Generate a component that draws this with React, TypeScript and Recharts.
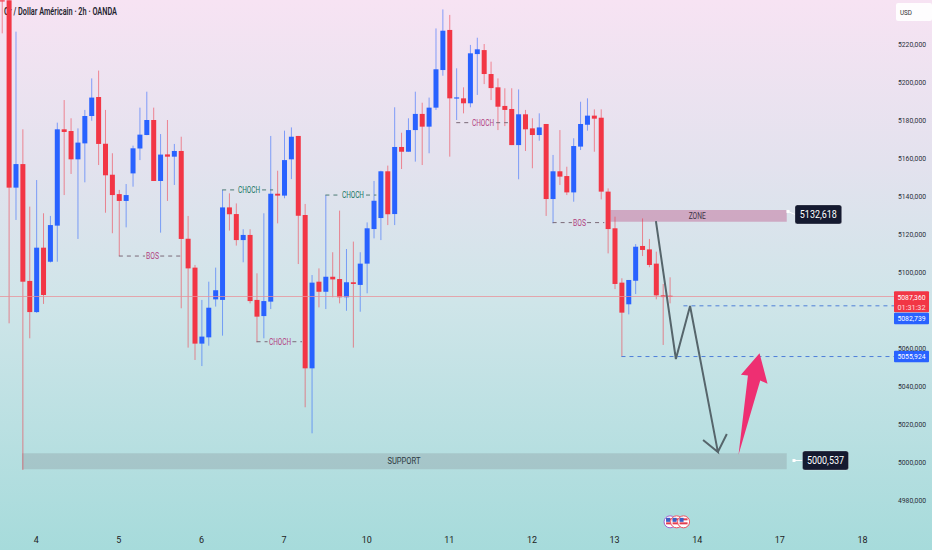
import React from 'react';
import {
  ComposedChart,
  Bar,
  Line,
  XAxis,
  YAxis,
  ReferenceArea,
  ReferenceLine,
  ReferenceDot,
} from 'recharts';

// 2h candles, first one sits just off the left edge
const opens = [
  5243, 5243, 5144.4, 5156.8, 5095.3, 5078.9, 5112.8, 5105.4, 5124.4, 5175.1,
  5174.2, 5159.3, 5167.7, 5182.1, 5192.1, 5167.5, 5151.2, 5141, 5137.4, 5151.9,
  5165, 5172.1, 5180, 5147.9, 5161.9, 5160.7, 5163.7, 5117.5, 5102.3, 5062.3,
  5065.6, 5085.6, 5085.3, 5134, 5130.5, 5116.8, 5119.5, 5085.3, 5076.8, 5084.4,
  5141.2, 5140.2, 5159.3, 5171.6, 5130, 5049.3, 5094.9, 5089.6, 5097.5, 5096.3,
  5086.7, 5094.6, 5093.2, 5104.4, 5122.6, 5128.4, 5153, 5130.5, 5165.8, 5163.3,
  5174.7, 5183.2, 5176.5, 5186.5, 5206.3, 5227.4, 5191.4, 5191.4, 5188.8, 5214.7,
  5216.8, 5204.2, 5197.2, 5187.4, 5185.8, 5166.8, 5183, 5175.6, 5172.1, 5177.9,
  5138.4, 5153, 5150.5, 5141.9, 5166, 5177.5, 5182.3, 5181.2, 5142.3, 5123,
  5094.4, 5083, 5095.4, 5113.7, 5111.9, 5104.4, 5087.7, 5087.5,
];
const closes = [
  5242.9, 5144.4, 5156.8, 5094.9, 5078.9, 5112.8, 5087.9, 5124.7, 5175.1, 5173.7,
  5159.3, 5168.1, 5182.1, 5191.8, 5167.4, 5150.9, 5140.5, 5137.4, 5140.5, 5165.1,
  5172.3, 5180, 5147.9, 5161.8, 5160.7, 5163.7, 5117.4, 5101.9, 5062.3, 5066,
  5081.2, 5090.4, 5134, 5130.4, 5116.8, 5119.5, 5084.7, 5076.5, 5084.7, 5141.2,
  5140.2, 5158.9, 5171.2, 5129.6, 5049.3, 5094.4, 5089.6, 5097.5, 5096.1, 5086.7,
  5094.6, 5093.7, 5104.4, 5123, 5137.5, 5153, 5130.4, 5165.8, 5163.3, 5174.7,
  5183.2, 5176.5, 5186.5, 5206.7, 5227, 5191.4, 5191.9, 5188.8, 5215.1, 5217.2,
  5204.2, 5196.8, 5187, 5185.3, 5166.8, 5183, 5175.1, 5172.1, 5176.1, 5138.4,
  5153, 5150.2, 5141.9, 5166.3, 5177.9, 5182.3, 5180.7, 5142.3, 5122.6, 5093.7,
  5078.6, 5095.8, 5113.3, 5111.6, 5103.7, 5087.7, 5086.8, 5087.36,
];
const highs = [
  5243, 5243, 5226.5, 5175.1, 5134.4, 5148.4, 5130.9, 5129.5, 5178.6, 5190.5,
  5180.9, 5175.6, 5185.3, 5201.9, 5206, 5185.3, 5162.5, 5143.2, 5146.3, 5166.5,
  5186.5, 5194.9, 5186.5, 5172.6, 5180, 5167.4, 5171.2, 5129.5, 5103.7, 5085.3,
  5094.9, 5102.3, 5143.2, 5141.4, 5136.1, 5122.5, 5122.5, 5099.3, 5130.9, 5171.6,
  5153.3, 5174.4, 5176.1, 5171.6, 5135.8, 5098.4, 5101.9, 5140.5, 5110.4, 5132.3,
  5112.1, 5116, 5110.4, 5126.1, 5147.9, 5153.3, 5156, 5186.7, 5173.3, 5180.9,
  5194.9, 5189.1, 5191.8, 5228.2, 5238.2, 5235.3, 5207.2, 5197.2, 5219.5, 5223.3,
  5220, 5210.7, 5201.9, 5196.7, 5196.7, 5196.1, 5185.3, 5180.9, 5183.5, 5177.9,
  5161.6, 5174.7, 5155.4, 5170.4, 5189.6, 5191.4, 5185.6, 5185.6, 5144, 5129.1,
  5096.7, 5095.8, 5114.7, 5128.2, 5117.4, 5110.7, 5093.7, 5097.2,
];
const lows = [
  5225.6, 5073, 5127.4, 4995.8, 5065.1, 5078.5, 5083.2, 5105, 5105.4, 5140.5,
  5151.6, 5117.4, 5147.2, 5179.6, 5156.3, 5131.2, 5120.4, 5108.4, 5123.5, 5144.9,
  5158.9, 5172, 5147.9, 5120.7, 5137.4, 5145.8, 5080.9, 5060.2, 5053.7, 5050.5,
  5061.2, 5081.8, 5066.5, 5121.8, 5113.9, 5105.1, 5083.5, 5063, 5065.1, 5080.5,
  5125.6, 5138.8, 5148.9, 5104.2, 5028.8, 5015.1, 5081.4, 5080.5, 5086.7, 5083.5,
  5079.6, 5060.2, 5079.1, 5088.8, 5117.7, 5116.8, 5124.7, 5124.7, 5154.2, 5163.3,
  5158.1, 5156.3, 5162.5, 5185.3, 5203.3, 5160.7, 5180, 5183.5, 5186.7, 5193.2,
  5198.9, 5190.5, 5174.7, 5176.8, 5166.8, 5148.8, 5163.7, 5154.6, 5169.1, 5129.5,
  5125.6, 5145.8, 5140.5, 5137, 5164.2, 5174.4, 5163.3, 5138.2, 5109.8, 5091,
  5055.4, 5077.7, 5088.4, 5108.4, 5102.5, 5085.6, 5061.6, 5083.5,
];

const dayTicks = [4, 16, 28, 40, 52, 64, 76, 88, 100, 112, 124];
const dayLabels = ['4', '5', '6', '7', '10', '11', '12', '13', '14', '17', '18'];
// 5080 is hidden behind the live price tags in the original
const priceTicks = [4980, 5000, 5020, 5040, 5060, 5100, 5120, 5140, 5160, 5180, 5200, 5220];

// hand drawn forecast path, with the arrow head at the end
const pathSlots = [94, 96.9, 98.96, 103, 100.85, 103, 104.3];
const pathPrices = [5126.8, 5054.2, 5082.1, 5005.3, 5011.6, 5005.3, 5014.7];

const candles = opens.map((open, i) => ({
  t: i - 1,
  open,
  close: closes[i],
  high: highs[i],
  low: lows[i],
}));
const pathData = pathSlots.map((t, i) => ({ t, price: pathPrices[i] }));

const RED = '#f23645';
const BLUE = '#2962ff';
const FONT = 'Roboto, sans-serif';
const LEFT_SLOT = -1.264;
const RIGHT_SLOT = 128.58;

const Candle = (props: any) => {
  const { x, y, width, height, payload } = props;
  const { open, close, high, low } = payload;
  const color = close >= open ? BLUE : RED;
  const perUnit = height / (high - low);
  const yOf = (v: number) => y + (high - v) * perUnit;
  const cx = x + width / 2;
  const top = yOf(Math.max(open, close));
  const bottom = yOf(Math.min(open, close));
  return (
    <g>
      <line x1={cx} x2={cx} y1={y} y2={y + height} stroke={color} strokeWidth={1} opacity={0.55} />
      <rect x={x} y={top} width={width} height={Math.max(bottom - top, 1.2)} fill={color} />
    </g>
  );
};

// the original's labels are narrower than any installed font, so squeeze them
const Squeezed = ({ len, size, ...rest }: any) => (
  <text textLength={len} lengthAdjust="spacingAndGlyphs" fontSize={size} fontFamily={FONT} {...rest} />
);

const PriceTick = (props: any) => (
  <Squeezed x={898} y={props.y + 3} len={28} size={8} fill="#2a2e39">
    {`${props.payload.value},000`}
  </Squeezed>
);

// text anchored on a time/price point
const note = (text: string, color: string, len: number, size = 9) => (props: any) => (
  <Squeezed x={props.cx - len / 2} y={props.cy + 3} len={len} size={size} fill={color}>
    {text}
  </Squeezed>
);

// tag on the price scale
const axisTag = (lines: string[], fill: string, height: number) => (props: any) => (
  <g>
    <rect x={894} y={props.cy - height / 2} width={35} height={height} fill={fill} rx={1} />
    {lines.map((s, i) => (
      <Squeezed
        key={s}
        x={897.5}
        y={props.cy - height / 2 + 8.7 + i * 10}
        len={28}
        size={8}
        fill="#fff"
        opacity={i === 0 ? 1 : 0.8}
      >
        {s}
      </Squeezed>
    ))}
  </g>
);

// dark callout with a small white leader from the drawing's handle
const callout = (text: string, w: number, dx: number, hx: number, hy: number) => (props: any) => (
  <g>
    <line x1={props.cx + hx} y1={props.cy + hy} x2={props.cx + dx} y2={props.cy} stroke="#fff" strokeWidth={1} />
    <rect x={props.cx + hx - 1.5} y={props.cy + hy - 1.5} width={3} height={3} fill="#fff" />
    <rect x={props.cx + dx} y={props.cy - 9.5} width={w} height={19} rx={2.5} fill="#151a30" stroke="#fff" strokeOpacity={0.5} strokeWidth={0.5} />
    <Squeezed x={props.cx + dx + (w - 37) / 2} y={props.cy + 4} len={37} size={11} fill="#fff">
      {text}
    </Squeezed>
  </g>
);

const PinkArrow = (props: any) => {
  const { cx, cy } = props;
  // tip, head and tail measured from the tip
  const outline = [
    [0, 0],
    [8, 30.6],
    [0.7, 27.3],
    [-21, 101.6],
    [-11.6, 22.3],
    [-18.6, 21.6],
  ];
  return <polygon points={outline.map(([a, b]) => `${cx + a},${cy + b}`).join(' ')} fill="#ee2f72" />;
};

const EventFlags = (props: any) => {
  const { cx, cy } = props;
  const flag = (dx: number, ring: string) => (
    <g key={dx}>
      <circle cx={cx + dx} cy={cy} r={6} fill="#fff" stroke={ring} strokeWidth={1} />
      <rect x={cx + dx - 4} y={cy - 3.5} width={8} height={2} fill="#e23d4e" />
      <rect x={cx + dx - 4} y={cy + 0.5} width={8} height={2} fill="#e23d4e" />
      <rect x={cx + dx - 4} y={cy - 4} width={4} height={4} fill="#3b5fc4" />
    </g>
  );
  return (
    <g>
      {flag(-6.5, '#a65fd0')}
      {flag(0, '#f0505f')}
      {flag(7, '#f0505f')}
    </g>
  );
};

const dashSegment = (from: number, to: number, y: number, color: string) => (
  <ReferenceLine
    segment={[{ x: from, y }, { x: to, y }]}
    stroke={color}
    strokeWidth={1}
    strokeDasharray="4 4"
    ifOverflow="visible"
  />
);

const noteDot = (x: number, y: number, shape: any) => (
  <ReferenceDot x={x} y={y} r={0} ifOverflow="visible" shape={shape} />
);

export default function App() {
  return (
    <div
      style={{
        position: 'absolute',
        left: 0,
        top: 0,
        width: 932,
        height: 550,
        overflow: 'hidden',
        background: 'linear-gradient(180deg, #f7e3f3 0%, #e3e2ee 30%, #cfe5e9 55%, #a6dbdb 100%)',
      }}
    >
      <ComposedChart
        width={932}
        height={550}
        data={candles}
        margin={{ top: 0, right: 0, bottom: 0, left: 0 }}
      >
        <XAxis
          dataKey="t"
          type="number"
          domain={[LEFT_SLOT, RIGHT_SLOT]}
          allowDataOverflow
          ticks={dayTicks}
          tickFormatter={(v) => dayLabels[dayTicks.indexOf(v)]}
          tick={{ fontSize: 9, fill: '#222', fontFamily: FONT }}
          axisLine={false}
          tickLine={false}
          tickMargin={11}
          height={30}
        />
        <YAxis
          type="number"
          orientation="right"
          domain={[4969.47, 5243.16]}
          allowDataOverflow
          ticks={priceTicks}
          tick={PriceTick}
          axisLine={false}
          tickLine={false}
          width={38}
        />

        <ReferenceLine y={5087.1} stroke="#ea8f97" strokeWidth={1} strokeOpacity={0.75} />

        <ReferenceArea x1={87.4} x2={113} y1={5126.5} y2={5132.6} fill="#c98fb0" fillOpacity={0.7} stroke="none" ifOverflow="visible" />
        <ReferenceArea x1={1.93} x2={113} y1={4996.2} y2={5004.6} fill="#8f9ea3" fillOpacity={0.38} stroke="none" ifOverflow="visible" />

        {dashSegment(16, 19.8, 5108.4, '#7b6a78')}
        {dashSegment(22, 25.4, 5108.4, '#7b6a78')}
        {dashSegment(31, 33, 5143.2, '#4c7a74')}
        {dashSegment(36.8, 38.4, 5143.2, '#4c7a74')}
        {dashSegment(36, 37.6, 5063.3, '#7b6a78')}
        {dashSegment(41.2, 42.6, 5063.3, '#7b6a78')}
        {dashSegment(46, 48.1, 5140.5, '#4c7a74')}
        {dashSegment(51.9, 53.4, 5140.5, '#4c7a74')}
        {dashSegment(65, 67, 5178.6, '#7b6a78')}
        {dashSegment(70.8, 72.5, 5178.6, '#7b6a78')}
        {dashSegment(79, 81.8, 5126, '#7b6a78')}
        {dashSegment(84, 86.5, 5126, '#7b6a78')}
        {dashSegment(98, RIGHT_SLOT, 5082.2, '#4f7fd8')}
        {dashSegment(89, RIGHT_SLOT, 5055.5, '#4f7fd8')}

        <Bar dataKey={(d: any) => [d.low, d.high]} barSize={5} shape={Candle} isAnimationActive={false} />

        <Line
          data={pathData}
          dataKey="price"
          type="linear"
          stroke="#56656b"
          strokeWidth={2}
          dot={false}
          activeDot={false}
          isAnimationActive={false}
        />

        {noteDot(100, 5129.4, note('ZONE', '#3d3346', 17, 8.5))}
        {noteDot(57.4, 5000.5, note('SUPPORT', '#2c3a3f', 33))}
        {noteDot(20.9, 5108.4, note('BOS', '#b23f80', 13))}
        {noteDot(82.9, 5126, note('BOS', '#b23f80', 13))}
        {noteDot(34.9, 5143.2, note('CHOCH', '#177562', 22))}
        {noteDot(50, 5140.5, note('CHOCH', '#177562', 22))}
        {noteDot(39.4, 5063.3, note('CHOCH', '#b23f80', 22))}
        {noteDot(68.9, 5178.6, note('CHOCH', '#b23f80', 22))}

        {noteDot(109.05, 5057.3, PinkArrow)}
        {noteDot(97, 4968.5, EventFlags)}

        {noteDot(RIGHT_SLOT, 5084.4, axisTag(['5087,360', '01:31:32'], RED, 21))}
        {noteDot(RIGHT_SLOT, 5075.5, axisTag(['5082,739'], BLUE, 11.5))}
        {noteDot(RIGHT_SLOT, 5055.5, axisTag(['5055,924'], BLUE, 11.5))}

        {noteDot(114.2, 5130.3, callout('5132,618', 46.7, 0, -7, -3))}
        {noteDot(114.2, 5000.8, callout('5000,537', 46, 7.5, -1, 0))}

        <Squeezed x={4} y={14.5} len={113} size={10.5} fill="#1f2530" fontWeight={600}>
          Or / Dollar Américain · 2h · OANDA
        </Squeezed>
        <rect x={896} y={3} width={36} height={18} rx={2} fill="#fff" fillOpacity={0.9} />
        <Squeezed x={900} y={15} len={12} size={8} fill="#333">
          USD
        </Squeezed>
      </ComposedChart>
    </div>
  );
}
